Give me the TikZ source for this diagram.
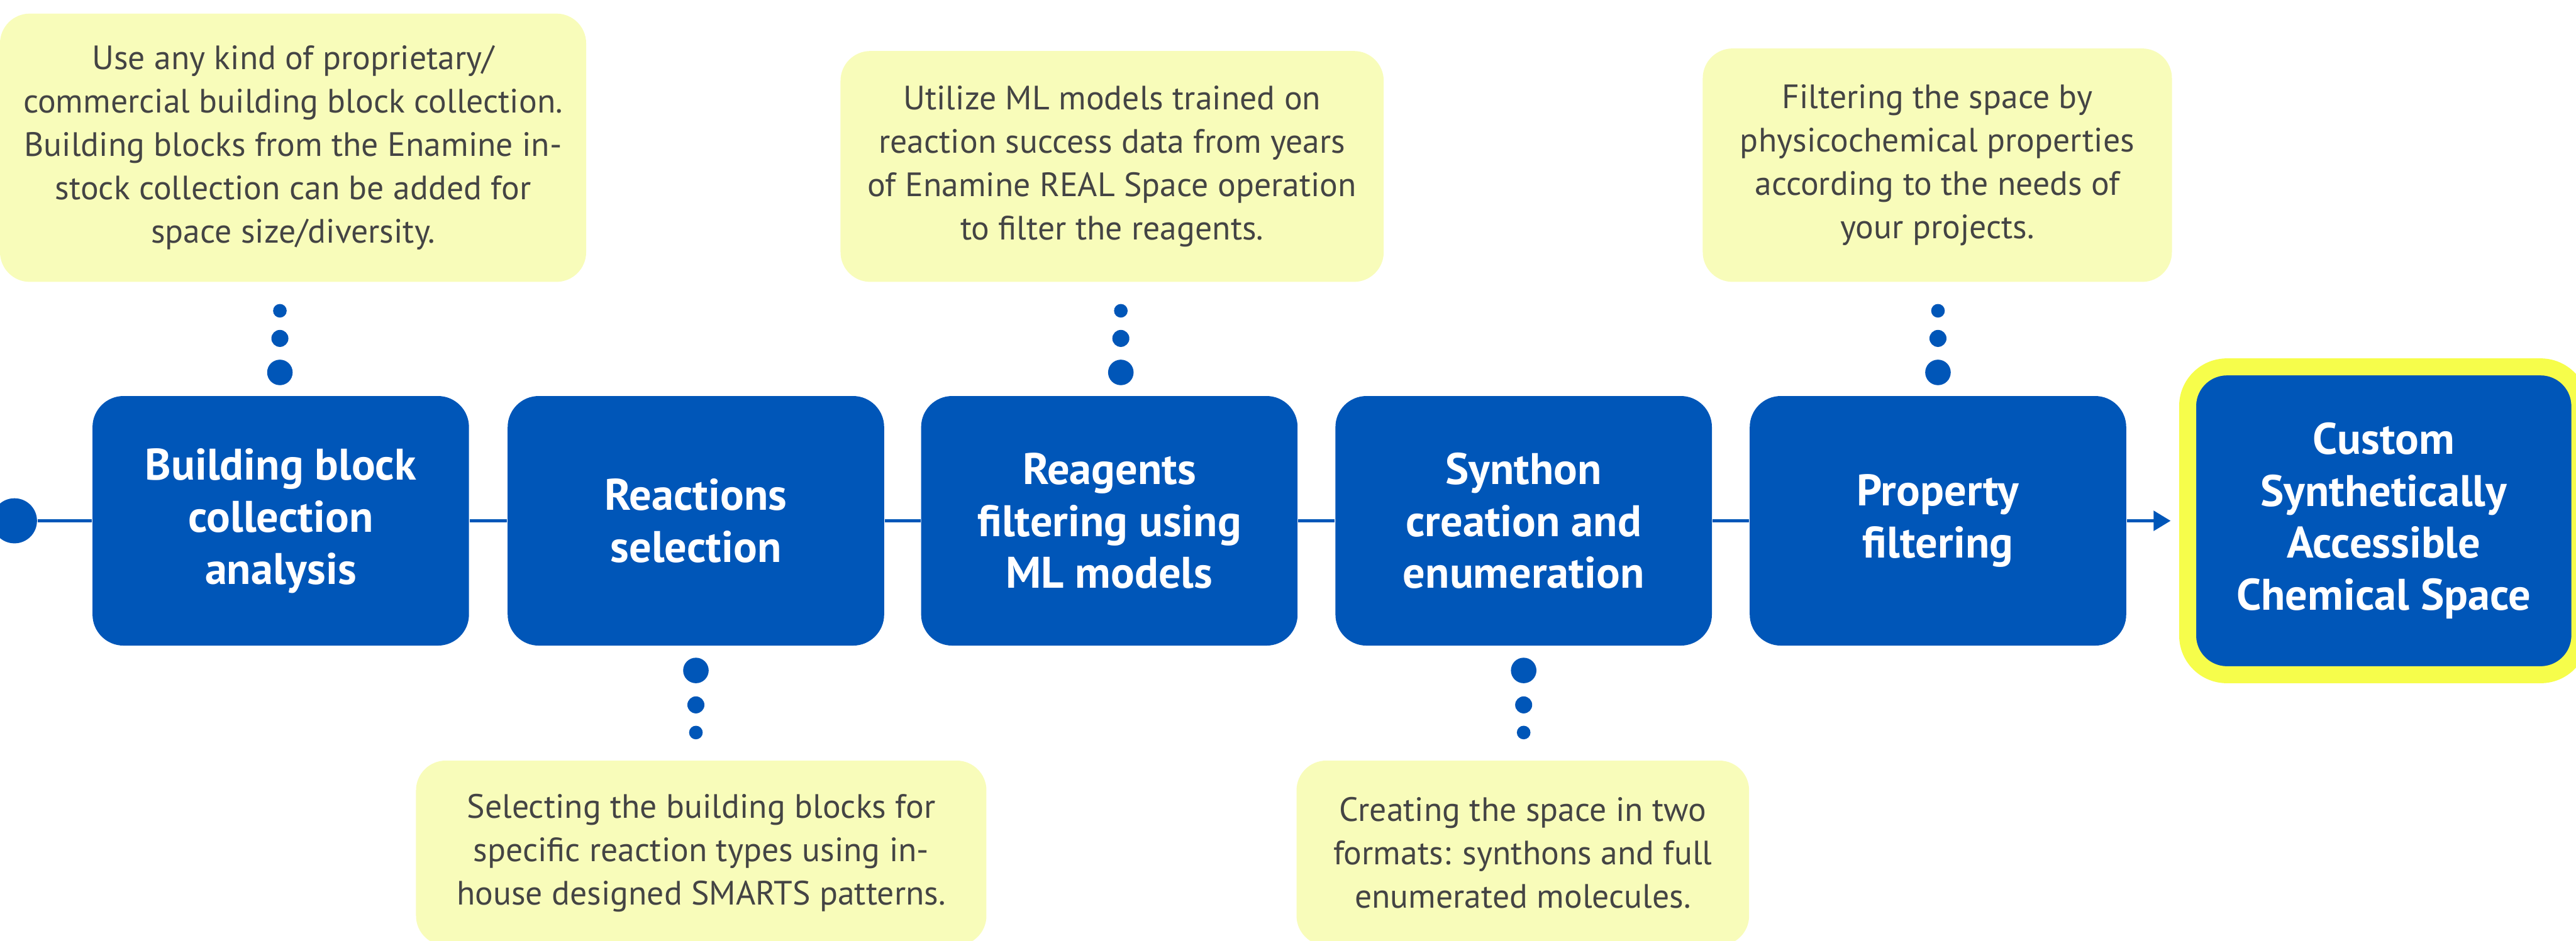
\documentclass[tikz,border=0pt]{standalone}
\usepackage{fontspec}
\setmainfont{PT Sans}
\usepackage{tikz}
\usetikzlibrary{arrows.meta,positioning,calc}
\definecolor{ENblue}{RGB}{0,86,184}
\definecolor{ENglow}{RGB}{246,253,75}
\definecolor{ENpale}{RGB}{248,252,186}
\definecolor{ENgray}{RGB}{68,68,68}
\tikzset{
  stagebox/.style={rounded corners=0.365cm,fill=ENblue,text=white,align=center,inner sep=0pt,
                   minimum width=4.425cm,minimum height=2.935cm,
                   font=\fontsize{14.8}{17.4}\selectfont\bfseries},
  goalbox/.style={stagebox,draw=ENglow,line width=0.2cm,rounded corners=0.46cm,
                  minimum width=4.61cm,minimum height=3.62cm},
  notebox/.style={rounded corners=0.35cm,fill=ENpale,text=ENgray,align=center,inner sep=0pt,
                  font=\fontsize{11.3}{14.5}\selectfont},
  startdot/.style={circle,fill=ENblue,inner sep=0pt,minimum size=0.53cm},
  fl/.style={line width=0.04cm,draw=ENblue},
}

\begin{document}
\begin{tikzpicture}
    \useasboundingbox (0,0) rectangle (30.28,-11.06);
    \clip (0,0) rectangle (30.28,-11.06);
    % process chain
    \node[startdot] (src) at (0.17,-6.125) {};
    \node[stagebox] (bba) at (3.30,-6.125) {Building block\\collection\\analysis};
    \node[stagebox] (rxn) at (8.18,-6.125) {Reactions\\selection};
    \node[stagebox] (rgf) at (13.04,-6.125) {Reagents\\filtering using\\ML models};
    \node[stagebox] (syn) at (17.91,-6.125) {Synthon\\creation and\\enumeration};
    \node[stagebox] (prop) at (22.78,-6.125) {Property\\filtering};
    \node[goalbox] (goal) at (28.02,-6.125) {Custom\\Synthetically\\Accessible\\Chemical Space};
    \draw[fl] (src) -- (bba);
    \draw[fl] (bba) -- (rxn);
    \draw[fl] (rxn) -- (rgf);
    \draw[fl] (rgf) -- (syn);
    \draw[fl] (syn) -- (prop);
    \draw[fl,-{Triangle[length=0.2cm,width=0.23cm]},shorten >=0.1cm] (prop) -- (goal);
    % notes
    \node[notebox,minimum width=6.89cm,minimum height=3.155cm] (nbba) at (3.445,-1.7375)
      {Use any kind of proprietary/\\commercial building block collection.\\Building blocks from the Enamine in-\\stock collection can be added for\\space size/diversity.};
    \node[notebox,minimum width=6.385cm,minimum height=2.715cm] (nrgf) at (13.0725,-1.9575)
      {Utilize ML models trained on\\reaction success data from years\\of Enamine REAL Space operation\\to filter the reagents.};
    \node[notebox,minimum width=5.515cm,minimum height=2.745cm] (nprop) at (22.7725,-1.9425)
      {Filtering the space by\\physicochemical properties\\according to the needs of\\your projects.};
    \node[notebox,minimum width=6.705cm,minimum height=2.175cm] (nrxn) at (8.2425,-10.0325)
      {Selecting the building blocks for\\specific reaction types using in-\\house designed SMARTS patterns.};
    \node[notebox,minimum width=5.32cm,minimum height=2.175cm] (nsyn) at (17.9,-10.0325)
      {Creating the space in two\\formats: synthons and full\\enumerated molecules.};
    % dotted links between notes and stages
    \foreach \x in {3.29,13.175,22.78}
      \foreach \y/\r in {-3.655/0.08,-3.98/0.10,-4.38/0.15}
        \fill[ENblue] (\x,\y) circle (\r);
    \foreach \x in {8.18,17.91}
      \foreach \y/\r in {-7.885/0.15,-8.29/0.10,-8.615/0.08}
        \fill[ENblue] (\x,\y) circle (\r);
\end{tikzpicture}
\end{document}
